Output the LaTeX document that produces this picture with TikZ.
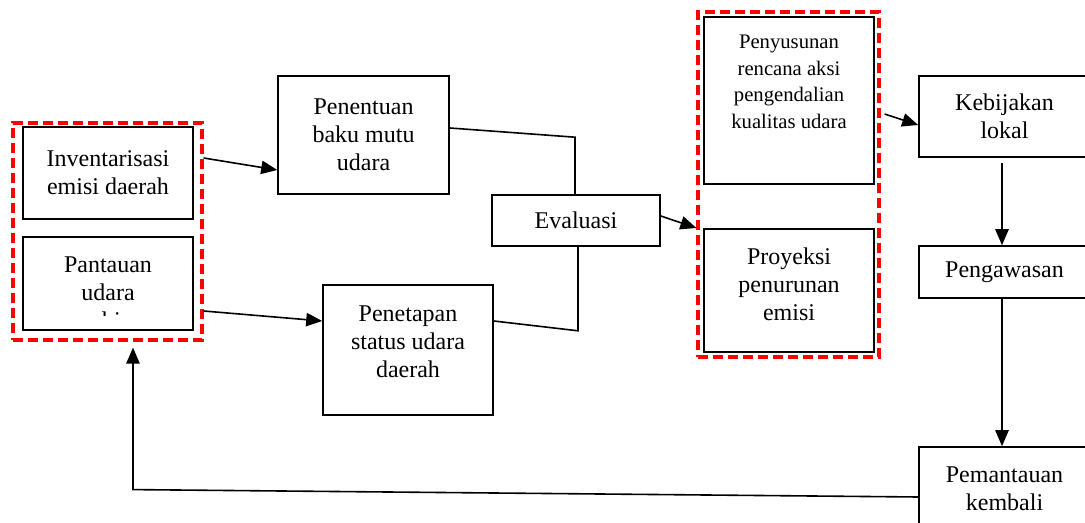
\documentclass[tikz,border=0pt]{standalone}
\usepackage{fontspec}
\setmainfont{Liberation Serif}
\usetikzlibrary{positioning}
\usetikzlibrary{arrows.meta}
\tikzset{
    boxn/.style = {rectangle, draw=black, line width=1.2pt, align=center, inner sep=0pt, font=\fontsize{18}{21}\selectfont},
    boxt/.style = {align=center, inner sep=0pt, font=\fontsize{18}{21}\selectfont},
    boxs/.style = {align=center, inner sep=0pt, font=\fontsize{15.5}{20}\selectfont},
    groupr/.style = {rectangle, draw=red, line width=2.4pt, dash pattern=on 7.5pt off 3.75pt, inner sep=0pt},
    edgen/.style = {-, line width=1.2pt, black},
    edgea/.style = {-{Triangle[length=12pt,width=10pt]}, line width=1.2pt, black}
}

\begin{document}
\begin{tikzpicture}[x=0.75pt, y=-0.75pt]
  \useasboundingbox (0,0) rectangle (1085,523);

  % left group
  \node[boxn, minimum width=127.5pt, minimum height=69pt] (inv) at (108,173) {Inventarisasi\\emisi daerah};
  \node[boxn, minimum width=127.5pt, minimum height=69.75pt] (pant) at (108,283.5) {};
  \begin{scope}
    \clip (pant.north west) rectangle ([shift={(0,-15)}]pant.south east);
    \node[boxt] (pantTxt) at (108,293) {Pantauan\\udara\\ambien};
  \end{scope}
  \node[groupr, minimum width=141.75pt, minimum height=162.75pt] (grpL) at (107.5,231.5) {};

  % middle
  \node[boxn, minimum width=128.25pt, minimum height=88.5pt] (pen) at (363.5,135) {Penentuan\\baku mutu\\udara};
  \node[boxn, minimum width=126pt, minimum height=38.25pt] (eva) at (576,220.5) {Evaluasi};
  \node[boxn, minimum width=127.5pt, minimum height=97.5pt] (pet) at (408,350) {};
  \node[boxt] (petTxt) at (408,342) {Penetapan\\status udara\\daerah};

  % right group
  \node[boxn, minimum width=127.5pt, minimum height=125.25pt] (pys) at (789,100.5) {};
  \node[boxs] (pysTxt) at (789,82) {Penyusunan\\rencana aksi\\pengendalian\\kualitas udara};
  \node[boxn, minimum width=127.5pt, minimum height=92.25pt] (pro) at (789,290.5) {};
  \node[boxt] (proTxt) at (789,284) {Proyeksi\\penurunan\\emisi};
  \node[groupr, minimum width=135.75pt, minimum height=258.75pt] (grpR) at (788.5,184.5) {};

  % right column
  \node[boxn, minimum width=128.25pt, minimum height=60.75pt] (keb) at (1004.5,116.5) {Kebijakan\\lokal};
  \node[boxn, minimum width=128.25pt, minimum height=39pt] (peng) at (1004.5,272) {Pengawasan};
  \node[boxn, minimum width=128.25pt, minimum height=62.25pt] (pem) at (1004.5,488.5) {Pemantauan\\kembali};

  % connectors
  \draw[edgea] ([shift={(0,-73.5)}]grpL.east) -- ([shift={(0,35)}]pen.west);
  \draw[edgea] ([shift={(0,79.5)}]grpL.east) -- ([shift={(0,-29)}]pet.west);
  \draw[edgen] ([shift={(0,-7)}]pen.east) -- ([shift={(-1,-57)}]eva.north) -- ([shift={(-1,0)}]eva.north);
  \draw[edgen] ([shift={(2,0)}]eva.south) -- ([shift={(2,84)}]eva.south) -- ([shift={(0,-29)}]pet.east);
  \draw[edgea] ([shift={(0,-4.5)}]eva.east) -- ([shift={(0,43.5)}]grpR.west);
  \draw[edgea] ([shift={(4,-70.5)}]grpR.east) -- ([shift={(0,8.5)}]keb.west);
  \draw[edgea] ([shift={(-2.5,5)}]keb.south) -- ([shift={(-2.5,0)}]peng.north);
  \draw[edgea] ([shift={(-2.5,0)}]peng.south) -- ([shift={(-2.5,0)}]pem.north);
  \draw[edgea] ([shift={(0,8.5)}]pem.west) -- ([shift={(25.5,148)}]grpL.south) -- ([shift={(25.5,6)}]grpL.south);
\end{tikzpicture}
\end{document}
